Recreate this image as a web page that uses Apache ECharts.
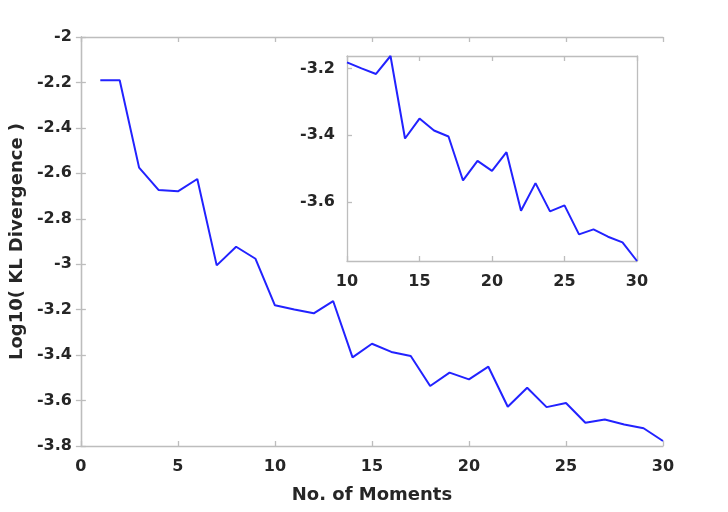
<!DOCTYPE html>
<html>
<head>
<meta charset="utf-8">
<script src="https://cdn.jsdelivr.net/npm/echarts@6/dist/echarts.min.js"></script>
<style>html,body{margin:0;padding:0;background:#fff}#c{width:728px;height:512px}</style>
</head>
<body>
<div id="c"></div>
<script>
// ---- data ----
var moments = [1,2,3,4,5,6,7,8,9,10,11,12,13,14,15,16,17,18,19,20,21,22,23,24,25,26,27,28,29,30];
var klLog10 = [-2.19,-2.19,-2.575,-2.673,-2.679,-2.625,-3.005,-2.923,-2.976,-3.181,
               -3.199,-3.216,-3.162,-3.41,-3.35,-3.386,-3.404,-3.536,-3.477,-3.507,
               -3.451,-3.627,-3.544,-3.629,-3.611,-3.698,-3.683,-3.705,-3.722,-3.778];
var insetStart = 10;
var insetYTicks = [-3.2, -3.4, -3.6];
var xTitle = 'No. of Moments';
var yTitle = 'Log10( KL Divergence )';

// ---- build ----
var mainData = moments.map(function(m,i){return [m, klLog10[i]];});
var insetData = mainData.filter(function(d){return d[0] >= insetStart;});

var FONT = 'DejaVu Sans';
var TXT = '#262626';
var AX = '#bdbdbd';
var LINE = '#2222ff';

function axLine(){return {show:true, lineStyle:{color:AX, width:1.3}};}
function tick(){return {show:true, inside:true, length:5, lineStyle:{color:AX, width:1.3}};}
function lbl(m){return {show:true, color:TXT, fontFamily:FONT, fontWeight:'bold', fontSize:16, margin:m};}

var chart = echarts.init(document.getElementById('c'), null, {renderer:'canvas'});
chart.setOption({
  animation:false,
  backgroundColor:'#fff',
  grid:[
    {left:80, top:37, right:65, bottom:66, containLabel:false},
    {left:347, top:56, width:290, height:205, containLabel:false, show:true, backgroundColor:'#fff', borderWidth:0}
  ],
  xAxis:[
    {type:'value', gridIndex:0, min:0, max:30, interval:5, position:'bottom',
     axisLine:axLine(), axisTick:tick(), axisLabel:lbl(13), splitLine:{show:false},
     name:xTitle, nameLocation:'middle', nameGap:40,
     nameTextStyle:{color:TXT, fontFamily:FONT, fontWeight:'bold', fontSize:18}},
    {type:'value', gridIndex:0, min:0, max:30, interval:5, position:'top',
     axisLine:axLine(), axisTick:tick(), axisLabel:{show:false}, splitLine:{show:false}},
    {type:'value', gridIndex:1, min:10, max:30, interval:5, position:'bottom',
     axisLine:axLine(), axisTick:tick(), axisLabel:lbl(13), splitLine:{show:false}},
    {type:'value', gridIndex:1, min:10, max:30, interval:5, position:'top',
     axisLine:axLine(), axisTick:tick(), axisLabel:{show:false}, splitLine:{show:false}}
  ],
  yAxis:[
    {type:'value', gridIndex:0, min:-3.8, max:-2, interval:0.2, position:'left',
     axisLine:axLine(), axisTick:tick(), axisLabel:lbl(9), splitLine:{show:false},
     name:yTitle, nameLocation:'middle', nameGap:52, nameRotate:90,
     nameTextStyle:{color:TXT, fontFamily:FONT, fontWeight:'bold', fontSize:18}},
    {type:'value', gridIndex:0, min:-3.8, max:-2, interval:0.2, position:'right',
     axisLine:axLine(), axisTick:tick(), axisLabel:{show:false}, splitLine:{show:false}},
    {type:'value', gridIndex:1, min:'dataMin', max:'dataMax', position:'left',
     axisLine:axLine(),
     axisTick:{show:true, inside:true, length:5, lineStyle:{color:AX, width:1.3}, customValues:insetYTicks},
     axisLabel:Object.assign(lbl(12), {customValues:insetYTicks}),
     splitLine:{show:false}},
    {type:'value', gridIndex:1, min:'dataMin', max:'dataMax', position:'right',
     axisLine:axLine(), axisTick:{show:false}, axisLabel:{show:false}, splitLine:{show:false}}
  ],
  series:[
    {type:'line', xAxisIndex:0, yAxisIndex:0, data:mainData, showSymbol:false,
     lineStyle:{color:LINE, width:2}, z:2},
    {type:'line', xAxisIndex:2, yAxisIndex:2, data:insetData, showSymbol:false,
     lineStyle:{color:LINE, width:2}, z:3},
    {type:'line', xAxisIndex:2, yAxisIndex:3, data:insetData, showSymbol:false,
     lineStyle:{opacity:0}, silent:true}
  ]
});
</script>
</body>
</html>
